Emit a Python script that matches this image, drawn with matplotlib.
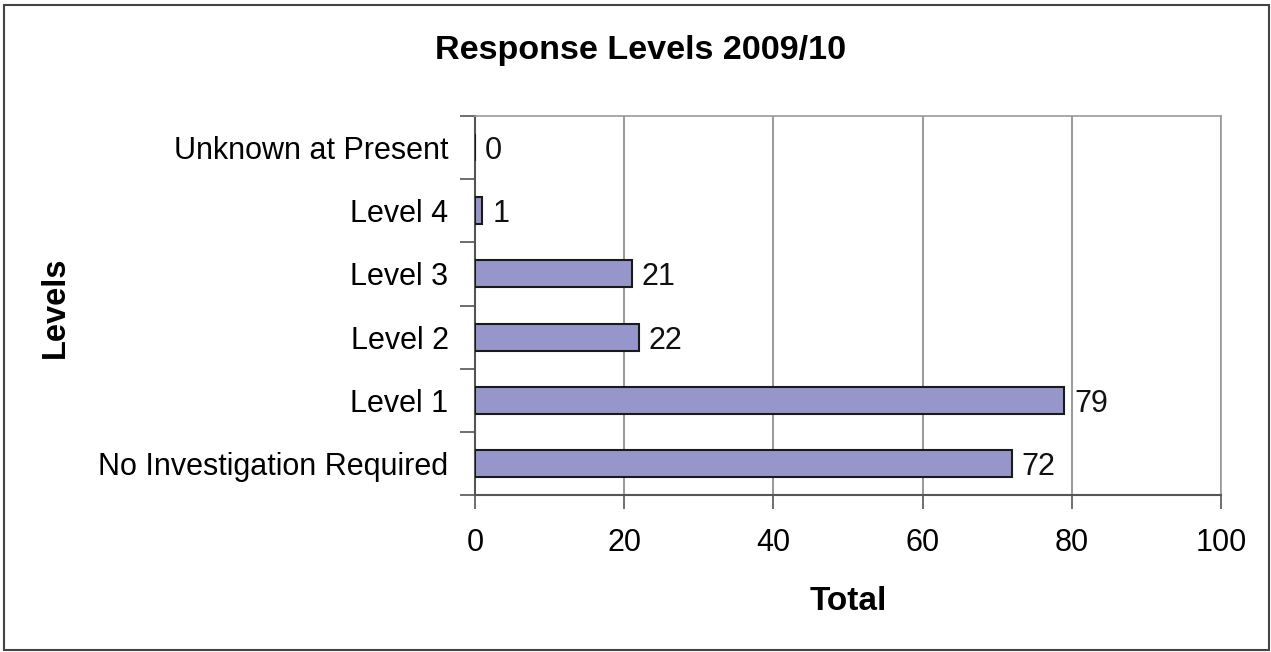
import matplotlib.pyplot as plt
from matplotlib.patches import Rectangle

categories = ["No Investigation Required", "Level 1", "Level 2", "Level 3", "Level 4", "Unknown at Present"]
totals = [72, 79, 22, 21, 1, 0]
xticks = [0, 20, 40, 60, 80, 100]

plt.rcParams['font.family'] = ['Liberation Sans', 'DejaVu Sans']
fs = 22

fig = plt.figure(figsize=(12.71, 6.52), dpi=100)
ax = fig.add_axes([475/1271, 1 - 495/652, (1221-475)/1271, (495-116)/652])

ypos = list(range(len(categories)))
ax.barh(ypos, totals, height=0.43, color='#9696cb', edgecolor='#1a1a1a', linewidth=1.5, zorder=3)
for y, v in zip(ypos, totals):
    ax.annotate(str(v), (v, y), xytext=(7, 0), textcoords='offset points',
                va='center_baseline', ha='left', fontsize=fs, color='#111111')

ax.set_xlim(0, 100)
ax.set_ylim(-0.5, len(categories) - 0.5)
ax.set_xticks(xticks)
ax.set_xticklabels([str(t) for t in xticks], fontsize=fs)
ax.set_yticks(ypos)
ax.set_yticklabels(categories, fontsize=fs, va='center_baseline')
ax.tick_params(axis='y', length=0, pad=19)
ax.set_yticks([y - 0.5 for y in range(len(categories) + 1)], minor=True)
ax.tick_params(axis='y', which='minor', length=11, width=1.2, color='#555555')
ax.tick_params(axis='x', length=10, width=1.2, color='#555555', pad=14)
ax.grid(axis='x', color='#888888', linewidth=1.2, zorder=0)

for s in ['top', 'right']:
    ax.spines[s].set_color('#999999')
    ax.spines[s].set_linewidth(1.2)
for s in ['left', 'bottom']:
    ax.spines[s].set_color('#555555')
    ax.spines[s].set_linewidth(1.5)

ax.set_xlabel("Total", fontsize=24, fontweight='bold', labelpad=20)
fig.text(55/1271, 1 - 307/652, "Levels", rotation=90, fontsize=23.5, fontweight='bold',
         ha='center', va='center')
fig.text(641/1271, 1 - 50/652, "Response Levels 2009/10", fontsize=24.6, fontweight='bold',
         ha='center', va='center')

fig.patches.append(Rectangle((4/1271, 2/652), 1265/1271, 645/652, transform=fig.transFigure,
                             fill=False, edgecolor='#444444', linewidth=1.5))

fig.savefig("out.png", dpi=100)
